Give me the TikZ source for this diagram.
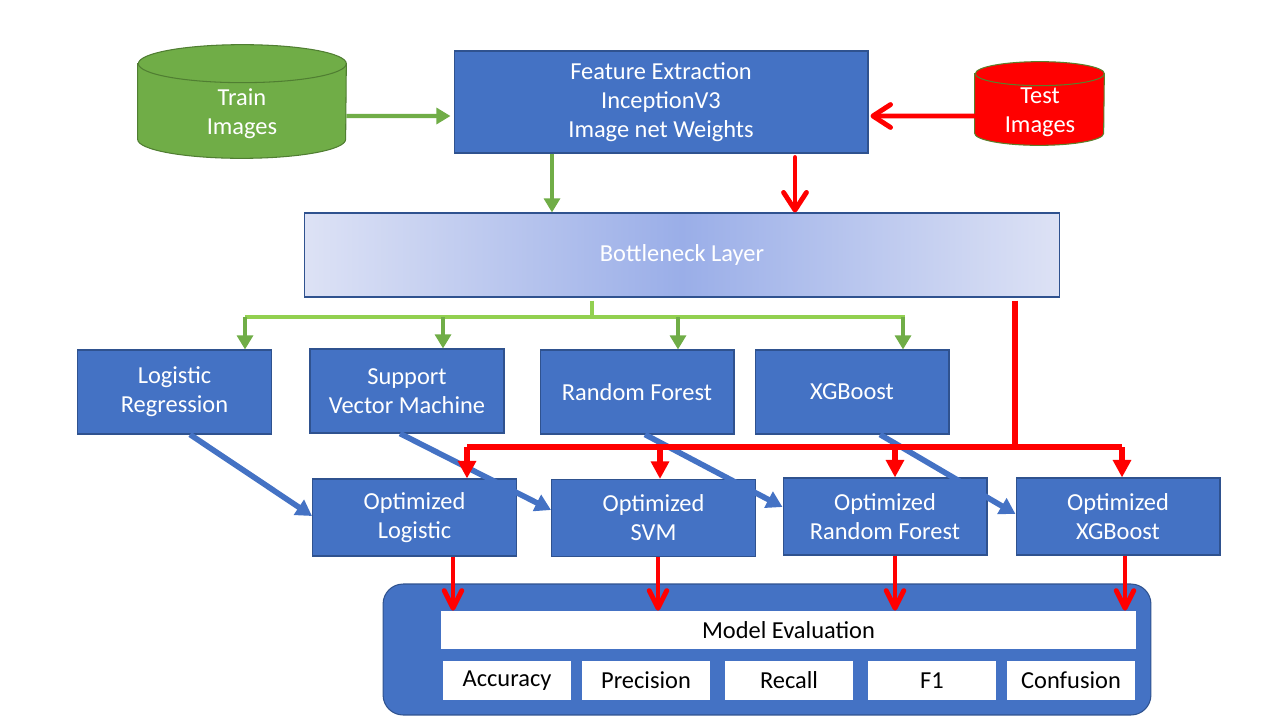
\documentclass[tikz,border=0pt]{standalone}
\usepackage{fontspec}
\setmainfont{Carlito}
\usetikzlibrary{arrows.meta,positioning,calc,shapes.geometric}
\definecolor{boxblue}{HTML}{4472C4}
\definecolor{boxline}{HTML}{2F528F}
\definecolor{tgreen}{HTML}{70AD47}
\definecolor{tgreend}{HTML}{507E32}
\definecolor{bgreen}{HTML}{92D050}
\definecolor{tred}{HTML}{FF0000}
\definecolor{tredl}{HTML}{5B7F2B}
\definecolor{bnmid}{HTML}{9AAEE8}
\definecolor{bnedge}{HTML}{DDE2F5}
\newcommand\dgfont{\fontsize{13.9}{16.4}\selectfont}
% drum: node, fill, stroke, x radius, y radius (px)
\newcommand\drum[5]{%
  \filldraw[fill=#2, draw=#3, line width=0.6pt]
    ($(#1.north west)+(0,#5)$) -- ($(#1.south west)+(0,-#5)$)
    arc[start angle=180, end angle=360, x radius=#4, y radius=#5*0.02cm]
    -- ($(#1.north east)+(0,#5)$)
    arc[start angle=0, end angle=180, x radius=#4, y radius=#5*0.02cm] -- cycle;
  \draw[#3, line width=0.6pt] ($(#1.north east)+(0,#5)$)
    arc[start angle=0, end angle=-180, x radius=#4, y radius=#5*0.02cm];
}
\tikzset{
  % filled boxes in the office blue
  blk/.style    = {rectangle, draw=boxline, fill=boxblue, line width=0.6pt, text=white,
                   align=center, font=\dgfont, inner sep=2pt},
  mdl/.style    = {minimum width=3.88cm, minimum height=1.68cm},
  opt/.style    = {minimum width=4.08cm, minimum height=1.54cm},
  wbox/.style   = {rectangle, fill=white, text=black, font=\dgfont, inner sep=0pt, align=center},
  bneck/.style  = {rectangle, draw=boxline, line width=0.6pt, left color=bnedge, right color=bnedge,
                   middle color=bnmid, text=white, font=\dgfont, minimum width=15.12cm, minimum height=1.68cm},
  evalbox/.style= {rectangle, rounded corners=0.4cm, draw=boxline, fill=boxblue, line width=0.6pt,
                   minimum width=15.36cm, minimum height=2.62cm},
  cyl/.style    = {rectangle, inner sep=0pt},
  cyltxt/.style = {text=white, font=\dgfont, align=center, inner sep=0pt},
  % connectors
  garr/.style   = {-{Triangle[length=8pt,width=9pt]}, tgreen, line width=2.3pt},
  gbus/.style   = {bgreen, line width=2.8pt},
  rline/.style  = {tred, line width=3pt},
  rbarb/.style  = {-{Straight Barb[length=10pt,width=13pt,round]}, tred, line width=2.8pt, line cap=round},
  rbarbs/.style = {-{Straight Barb[length=10pt,width=10pt,round]}, tred, line width=2.8pt},
  rtri/.style   = {-{Triangle[length=10pt,width=10pt]}, tred, line width=3pt},
  barr/.style   = {-{Triangle[length=9pt,width=10pt]}, boxblue, line width=3.2pt},
}
\begin{document}
\begin{tikzpicture}[x=0.02cm,y=-0.02cm]
\useasboundingbox (0,0) rectangle (1280,720);
% data sources and feature extractor
\node[cyl, minimum width=4.16cm, minimum height=2.26cm] (train) at (242,101.5) {};
\drum{train}{tgreen}{tgreend}{2.08cm}{19}
\node[cyltxt] (traintxt) at (242,114) {Train\\Images};
\node[cyl, minimum width=2.58cm, minimum height=1.66cm] (test) at (1039.5,103.5) {};
\drum{test}{tred}{tredl}{1.29cm}{12}
\node[cyltxt] (testtxt) at (1040,112.5) {Test\\Images};
\node[blk, minimum width=8.28cm, minimum height=2.04cm] (feat) at (661,102) {Feature Extraction\\InceptionV3\\Image net Weights};
\node[bneck] (bn) at (682,255) {Bottleneck Layer};
% classifiers
\node[blk, mdl] (lr) at (174.5,392) {Logistic\\Regression};
\node[blk, mdl] (svm) at (407,391) {Support\\Vector Machine};
\node[blk, mdl] (rf) at (637,392) {Random Forest};
\node[blk, mdl] (xgb) at (852,392) {XGBoost};
% tuned classifiers
\node[blk, opt] (ol) at (414.5,517.5) {Optimized\\Logistic};
\node[blk, opt] (os) at (653.5,518) {Optimized\\SVM};
\node[blk, opt] (orf) at (885,516.5) {Optimized\\Random Forest};
\node[blk, opt] (ox) at (1118,516.5) {Optimized\\XGBoost};
% evaluation
\node[evalbox] (eval) at (767,649.5) {};
\node[wbox, minimum width=13.9cm, minimum height=0.76cm] (meval) at (788.5,630) {Model Evaluation};
\foreach \n/\x/\t in {acc/507/Accuracy, prec/646/Precision, rec/789/Recall, fone/932/F1, conf/1071/Confusion}
  \node[wbox, minimum width=2.56cm, minimum height=0.78cm] (\n) at (\x,680.5) {\t};

% inputs
\draw[garr] ($(train.east)+(0,14.5)$) -- ($(feat.west)+(-3,14)$);
\draw[rbarb] ($(test.west)+(0,12.5)$) -- ($(feat.east)+(2,14)$);
\coordinate (gdown) at (552,0);
\coordinate (rdown) at (795,0);
\draw[garr] (feat.south -| gdown) -- (bn.north -| gdown);
\draw[rbarb] ($(feat.south -| rdown)+(0,4)$) -- (bn.north -| rdown);
% training branch
\coordinate (gbus) at (592,317);
\coordinate (gb1) at (245,317);
\coordinate (gb2) at (443,317);
\coordinate (gb3) at (678,317);
\coordinate (gb4) at (903,317);
\draw[gbus] ($(bn.south -| gbus)+(0,3)$) -- (gbus);
\draw[gbus] (gb1) -- ($(gb4)+(2,0)$);
\foreach \n/\c in {lr/gb1, svm/gb2, rf/gb3, xgb/gb4}
  \draw[garr] (\c) -- (\c |- \n.north);
% tuning
\foreach \a/\dx/\b/\dy in {lr/15.5/ol/-1.5, svm/-7/os/-8, rf/8/orf/-9.5, xgb/28/ox/-2.5}
  \draw[barr] ($(\a.south)+(\dx,0)$) -- ($(\b.west)+(0,\dy)$);
% test branch
\coordinate (rbus) at (1015,447);
\coordinate (rb1) at (467,447);
\coordinate (rb2) at (660,447);
\coordinate (rb3) at (895,447);
\coordinate (rb4) at (1122,447);
\draw[rline] ($(bn.south -| rbus)+(0,3)$) -- (rbus);
\draw[rline] (rb1) -- (rb4);
\foreach \n/\c in {ol/rb1, os/rb2, orf/rb3, ox/rb4}
  \draw[rtri] (\c) -- (\c |- \n.north);
\foreach \n/\dx in {ol/38.5, os/4.5, orf/10, ox/7}
  \draw[rbarbs] ($(\n.south)+(\dx,0)$) coordinate (\n x) -- (\n x |- meval.north);
\end{tikzpicture}
\end{document}
